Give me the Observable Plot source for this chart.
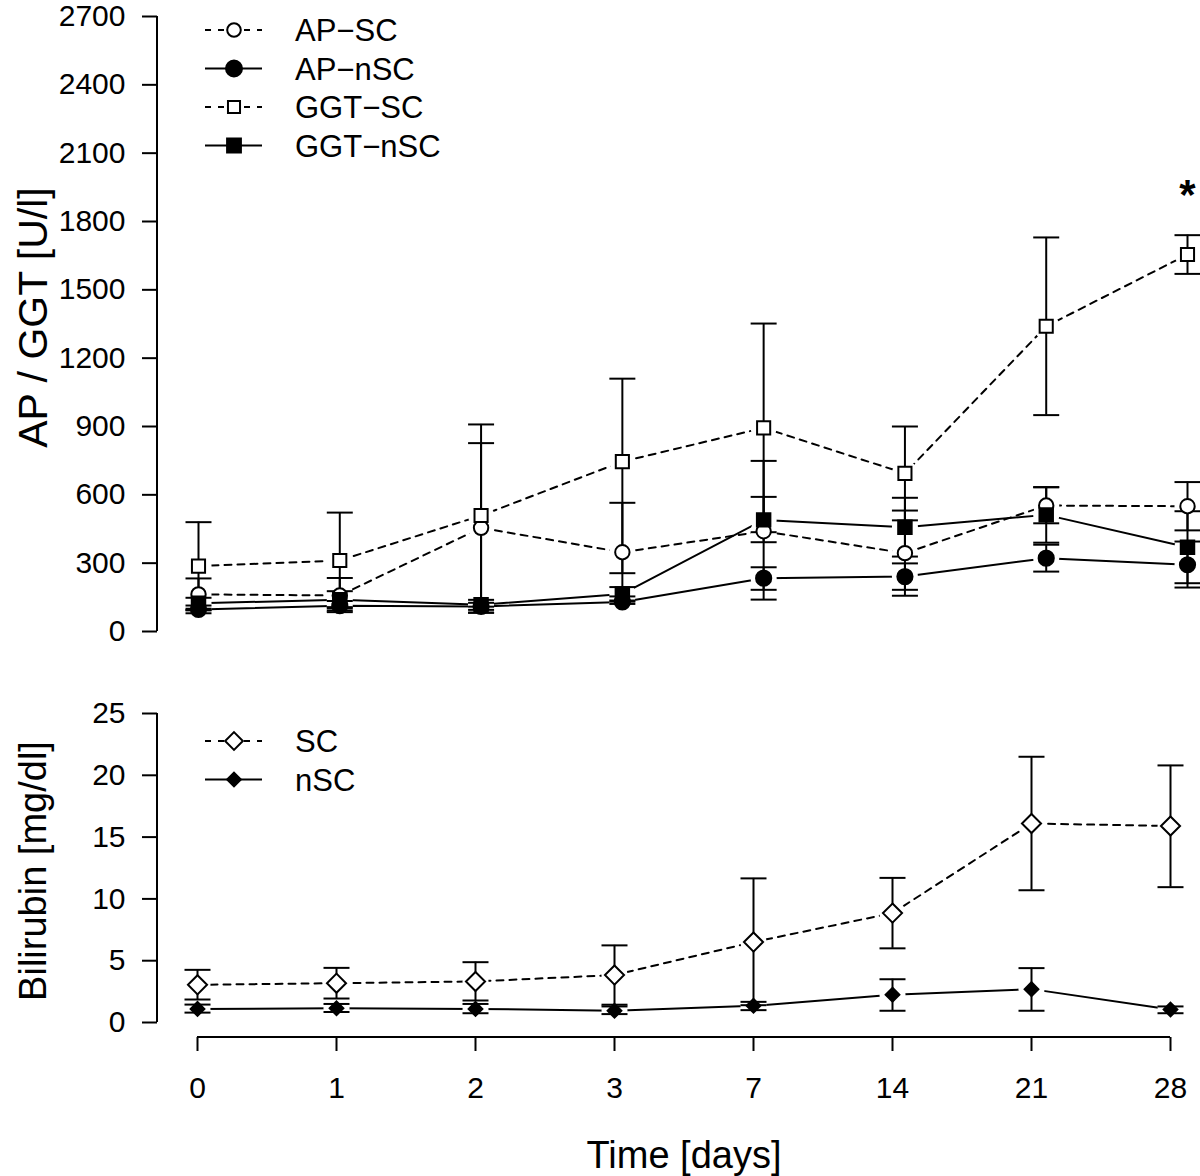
<!DOCTYPE html>
<html><head><meta charset="utf-8">
<script src="https://cdn.jsdelivr.net/npm/d3@7"></script>
<script src="https://cdn.jsdelivr.net/npm/@observablehq/plot@0.6"></script>
<style>
body{margin:0;background:#fff;}
#wrap{position:relative;width:1200px;height:1176px;overflow:hidden;background:#fff;}
#top,#bot{position:absolute;left:0;}
#top{top:0;} #bot{top:660px;}
</style></head><body><div id="wrap"><div id="top"></div><div id="bot"></div></div>
<script>
// ---------- data ----------
const days = ["0","1","2","3","7","14","21","28"];

const apSC      = [163, 158, 455, 348, 440, 344, 553, 550];
const apSClo    = [ 93,  85,  83, 131, 140, 157, 475, 444];
const apSChi    = [233, 235, 827, 565, 749, 531, 633, 656];

const apNSC     = [ 97, 113, 110, 130, 234, 241, 322, 293];
const apNSClo   = [ 80,  92,  82, 121, 183, 183, 263, 193];
const apNSChi   = [114, 134, 126, 154, 282, 299, 381, 395];

const ggtSC     = [287, 312, 509, 746, 894, 694, 1340, 1655];
const ggtSClo   = [ 94, 102, 109, 256, 436, 488,  950, 1570];
const ggtSChi   = [480, 522, 909, 1110, 1352, 900, 1730, 1740];

const ggtNSC    = [124, 139, 117, 165, 490, 458, 512, 370];
const ggtNSClo  = [100, 107,  95, 136, 392, 329, 390, 212];
const ggtNSChi  = [148, 177, 139, 195, 591, 587, 634, 528];

const biliSC    = [3.05, 3.18, 3.32, 3.84, 6.51, 8.85, 16.1, 15.9];
const biliSClo  = [1.86, 1.94, 1.78, 1.44, 1.40, 6.00, 10.7, 10.95];
const biliSChi  = [4.26, 4.42, 4.88, 6.24, 11.66, 11.7, 21.5, 20.8];

const biliNSC   = [1.10, 1.15, 1.10, 0.95, 1.35, 2.25, 2.70, 1.05];
const biliNSClo = [0.80, 0.85, 0.75, 0.68, 1.00, 0.95, 0.95, 0.75];
const biliNSChi = [1.45, 1.50, 1.50, 1.30, 1.67, 3.50, 4.40, 1.30];

const topTicks = [0, 300, 600, 900, 1200, 1500, 1800, 2100, 2400, 2700];
const botTicks = [0, 5, 10, 15, 20, 25];
const starMark = [{day: 7, value: 1915, label: "*"}];

// ---------- helpers ----------
const FONT = '"Liberation Sans", Arial, Helvetica, sans-serif';
const DASH = "7,6";
const TICKFONT = 30;
const capSym = {draw(ctx) { ctx.moveTo(-13, 0); ctx.lineTo(13, 0); }};

function rowsOf(name, mean, lo, hi) {
  return mean.map((v, i) => ({series: name, i, v, lo: lo[i], hi: hi[i]}));
}

function seriesMarks(list) {
  const marks = [];
  for (const s of list) marks.push(Plot.line(s.rows, {x: "i", y: "v", stroke: "black", strokeWidth: 2, strokeDasharray: s.dash || null}));
  for (const s of list) marks.push(Plot.dot(s.rows, {x: "i", y: "v", r: 13, fill: "white", stroke: null}));
  for (const s of list) {
    marks.push(Plot.ruleX(s.rows, {x: "i", y1: "lo", y2: "hi", stroke: "black", strokeWidth: 2}));
    marks.push(Plot.dot(s.rows, {x: "i", y: "hi", symbol: capSym, r: 5, stroke: "black", strokeWidth: 2, fill: "none"}));
    marks.push(Plot.dot(s.rows, {x: "i", y: "lo", symbol: capSym, r: 5, stroke: "black", strokeWidth: 2, fill: "none"}));
  }
  for (const s of list) marks.push(Plot.dot(s.rows, {x: "i", y: "v", symbol: s.symbol, r: s.r, fill: s.fill, stroke: "black", strokeWidth: 2}));
  return marks;
}

function legendMark(list, y0, step) {
  return (index, scales, values, dims) => {
    const g = d3.create("svg:g");
    list.forEach((s, k) => {
      const y = y0 + k * step;
      g.append("line").attr("x1", 205).attr("x2", 262).attr("y1", y).attr("y2", y)
        .attr("stroke", "black").attr("stroke-width", 2)
        .attr("stroke-dasharray", s.dash ? "6,7" : null);
      const sym = d3.symbol().type(s.d3sym).size(Math.PI * s.lr * s.lr)();
      g.append("path").attr("d", sym).attr("transform", `translate(234,${y})`)
        .attr("fill", s.fill === "white" ? "white" : "black").attr("stroke", "black").attr("stroke-width", 2);
      g.append("text").attr("x", 295).attr("y", y).attr("dy", "0.36em")
        .attr("text-anchor", "start")
        .attr("font-size", 31).attr("font-family", FONT).attr("fill", "black").text(s.name);
    });
    return g.node();
  };
}

function spineY(yTop, yBot) {
  return (index, scales, values, dims) => d3.create("svg:line")
    .attr("x1", dims.marginLeft).attr("x2", dims.marginLeft)
    .attr("y1", scales.y(yTop)).attr("y2", scales.y(yBot))
    .attr("stroke", "black").attr("stroke-width", 2).node();
}
function spineX(xa, xb) {
  return (index, scales, values, dims) => d3.create("svg:line")
    .attr("x1", scales.x(xa)).attr("x2", scales.x(xb))
    .attr("y1", dims.height - dims.marginBottom).attr("y2", dims.height - dims.marginBottom)
    .attr("stroke", "black").attr("stroke-width", 2).node();
}

// ---------- top panel ----------
const topList = [
  {name: "AP−SC",  rows: rowsOf("AP−SC", apSC, apSClo, apSChi),     symbol: "circle", d3sym: d3.symbolCircle, r: 7.2, lr: 6.8, fill: "white", dash: DASH},
  {name: "AP−nSC", rows: rowsOf("AP−nSC", apNSC, apNSClo, apNSChi), symbol: "circle", d3sym: d3.symbolCircle, r: 7.6, lr: 8, fill: "black"},
  {name: "GGT−SC", rows: rowsOf("GGT−SC", ggtSC, ggtSClo, ggtSChi), symbol: "square", d3sym: d3.symbolSquare, r: 7.4, lr: 6.8, fill: "white", dash: DASH},
  {name: "GGT−nSC",rows: rowsOf("GGT−nSC", ggtNSC, ggtNSClo, ggtNSChi), symbol: "square", d3sym: d3.symbolSquare, r: 7.6, lr: 7.8, fill: "black"}
];

const topPlot = Plot.plot({
  width: 1200, height: 660,
  marginLeft: 157, marginRight: 0, marginTop: 0, marginBottom: 0,
  x: {domain: [0, 7], range: [198, 1187], axis: null},
  y: {domain: [0, 2700], range: [631, 16], axis: null},
  style: {fontFamily: FONT, fontSize: TICKFONT + "px", color: "black", background: "white", overflow: "visible"},
  marks: [
    Plot.axisY({ticks: topTicks, tickFormat: d => String(d), tickSize: 15, tickPadding: 17, fontSize: TICKFONT, label: null, strokeWidth: 2}),
    spineY(0, 2700),
    Plot.text(["AP / GGT [U/l]"], {frameAnchor: "left", textAnchor: "middle", dx: -124, dy: -13, rotate: -90, fontSize: 41, fill: "black"}),
    ...seriesMarks(topList),
    Plot.text(starMark, {x: "day", y: "value", text: "label", fontSize: 42, fontWeight: "bold", fill: "black"}),
    legendMark(topList, 30, 38.5)
  ]
});
document.getElementById("top").appendChild(topPlot);

// ---------- bottom panel ----------
const botList = [
  {name: "SC",  rows: rowsOf("SC", biliSC, biliSClo, biliSChi),     symbol: "diamond2", d3sym: d3.symbolDiamond2, r: 8.6, lr: 8, fill: "white", dash: DASH},
  {name: "nSC", rows: rowsOf("nSC", biliNSC, biliNSClo, biliNSChi), symbol: "diamond2", d3sym: d3.symbolDiamond2, r: 6.2, lr: 6.2, fill: "black"}
];

const botPlot = Plot.plot({
  width: 1200, height: 516,
  marginLeft: 157, marginRight: 0, marginTop: 0, marginBottom: 139,
  x: {domain: [0, 7], range: [197, 1170], axis: null},
  y: {domain: [0, 25], range: [362, 53], axis: null},
  style: {fontFamily: FONT, fontSize: TICKFONT + "px", color: "black", background: "white", overflow: "visible"},
  marks: [
    Plot.axisY({ticks: botTicks, tickFormat: d => String(d), tickSize: 15, tickPadding: 17, fontSize: TICKFONT, label: null, strokeWidth: 2}),
    spineY(0, 25),
    Plot.axisX({ticks: d3.range(days.length), tickFormat: i => days[i], tickSize: 14, tickPadding: 25, fontSize: TICKFONT, label: null, strokeWidth: 2}),
    spineX(0, 7),
    Plot.text(["Bilirubin [mg/dl]"], {frameAnchor: "left", textAnchor: "middle", dx: -124, dy: 22, rotate: -90, fontSize: 38, fill: "black"}),
    Plot.text(["Time [days]"], {frameAnchor: "bottom", dx: 5, dy: 130, fontSize: 38, fill: "black"}),
    ...seriesMarks(botList),
    legendMark(botList, 741 - 660, 38.5)
  ]
});
document.getElementById("bot").appendChild(botPlot);
</script>
</body></html>
